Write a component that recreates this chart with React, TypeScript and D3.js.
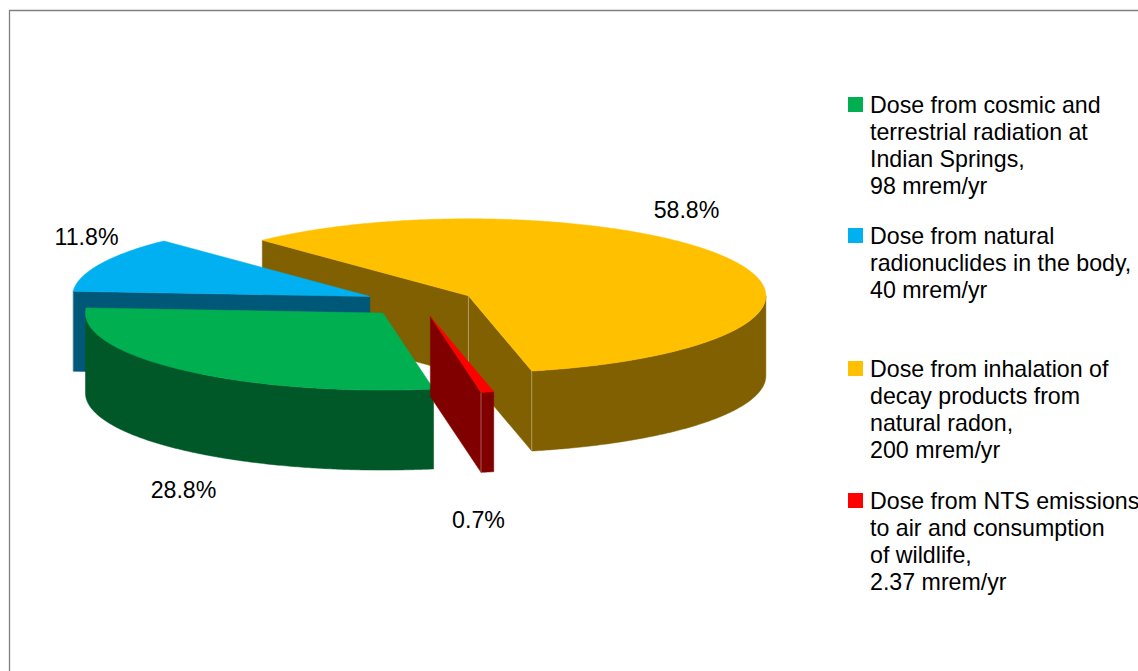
import React from "react";
import * as d3 from "d3";

// ---- data ----
const doses = [98, 40, 200, 2.37];
const topColors = ["#00B050", "#00B0F0", "#FFC000", "#FF0000"];
const wallColors = ["#005828", "#005878", "#806000", "#800000"];
const legendLines = [
  ["Dose from cosmic and", "terrestrial radiation at", "Indian Springs,", "98 mrem/yr"],
  ["Dose from natural", "radionuclides in the body,", "40 mrem/yr"],
  ["Dose from inhalation of", "decay products from", "natural radon,", "200 mrem/yr"],
  ["Dose from NTS emissions", "to air and consumption", "of wildlife,", "2.37 mrem/yr"],
];
const firstSliceAngleDeg = 170.2;

// ---- layout ----
const W = 1138, H = 671;
const CX = 419.8, CY = 302.5, RX = 297.5, RY = 77, DEPTH = 80;
const EXPLODE = 0.185;
const FONT = "'Liberation Sans', Arial, sans-serif";
const FS = 23.2;
const legendTops = [105, 236, 369, 501];
const LINE = 27;
const labelPos = [
  { x: 183.5, y: 490 },
  { x: 86.5, y: 237 },
  { x: 686.5, y: 210 },
  { x: 478.5, y: 520 },
];
const drawOrder = [2, 1, 0, 3];

const sx = d3.scaleLinear().domain([-1, 1]).range([CX - RX, CX + RX]);
const sy = d3.scaleLinear().domain([-1, 1]).range([CY - RY, CY + RY]);
const line = d3.line<[number, number]>();
const rad = Math.PI / 180;

const start = firstSliceAngleDeg * rad;
const arcs = d3.pie<number>().sort(null).startAngle(start).endAngle(start + 2 * Math.PI)(doses);
const total = d3.sum(doses);
const pct = d3.format(".1%");

function sample(a0: number, a1: number): number[] {
  const n = Math.max(2, Math.ceil((a1 - a0) / (0.5 * rad)));
  return d3.range(n + 1).map((i) => a0 + ((a1 - a0) * i) / n);
}

function Slice({ i }: { i: number }) {
  const { startAngle: a0, endAngle: a1 } = arcs[i];
  const mid = (a0 + a1) / 2;
  const ox = EXPLODE * Math.sin(mid);
  const oy = -EXPLODE * Math.cos(mid);
  const pt = (a: number, r = 1, dz = 0): [number, number] => [
    sx(ox + r * Math.sin(a)),
    sy(oy - r * Math.cos(a)) + dz,
  ];
  const top = [pt(a0, 0), ...sample(a0, a1).map((a) => pt(a))];

  const walls: string[] = [];
  const seams: [number, number][] = [];
  const startVis = -Math.cos(a0 - Math.PI / 2) > 0;
  const endVis = -Math.cos(a1 + Math.PI / 2) > 0;
  const quad = (a: number) =>
    line([pt(a, 0), pt(a), pt(a, 1, DEPTH), pt(a, 0, DEPTH)]) + "Z";
  if (startVis) walls.push(quad(a0));
  if (endVis) walls.push(quad(a1));
  if (startVis && endVis) seams.push(pt(a0, 0));
  let outerEndsAt: number[] = [];
  for (const k of [0, 1]) {
    const lo = Math.max(a0, (90 + 360 * k) * rad);
    const hi = Math.min(a1, (270 + 360 * k) * rad);
    if (hi > lo) {
      const s = sample(lo, hi);
      const poly = [...s.map((a) => pt(a)), ...s.slice().reverse().map((a) => pt(a, 1, DEPTH))];
      walls.push(line(poly) + "Z");
      outerEndsAt.push(lo, hi);
    }
  }
  for (const a of outerEndsAt) {
    if ((Math.abs(a - a0) < 1e-6 && startVis) || (Math.abs(a - a1) < 1e-6 && endVis)) seams.push(pt(a));
  }
  if (!outerEndsAt.length && (startVis || endVis)) seams.push(pt(startVis ? a0 : a1));

  return (
    <g>
      {walls.map((d, j) => (
        <path key={j} d={d} fill={wallColors[i]} stroke={wallColors[i]} strokeWidth={0.5} />
      ))}
      {seams.map(([x, y], j) => (
        <line key={j} x1={x} x2={x} y1={y} y2={y + DEPTH} stroke="#ffffff" strokeOpacity={0.35} strokeWidth={1} />
      ))}
      <path d={line(top) + "Z"} fill={topColors[i]} stroke={topColors[i]} strokeWidth={0.5} />
    </g>
  );
}

export default function App() {
  return (
    <svg
      width={W}
      height={H}
      viewBox={`0 0 ${W} ${H}`}
      style={{ position: "absolute", left: 0, top: 0, background: "#fff" }}
      fontFamily={FONT}
      fontSize={FS}
      fill="#000"
    >
      <path d={`M9.5 ${H}V10.5H${W}`} fill="none" stroke="#808080" strokeWidth={1.3} />
      {drawOrder.map((i) => (
        <Slice key={i} i={i} />
      ))}
      {doses.map((v, i) => (
        <text key={i} x={labelPos[i].x} y={labelPos[i].y} textAnchor="middle" dominantBaseline="central">
          {pct(v / total)}
        </text>
      ))}
      {legendLines.map((lines, i) => (
        <g key={i}>
          <rect x={848} y={legendTops[i] - 8} width={15} height={15} fill={topColors[i]} />
          {lines.map((t, j) => (
            <text key={j} x={870} y={legendTops[i] + j * LINE} dominantBaseline="central">
              {t}
            </text>
          ))}
        </g>
      ))}
    </svg>
  );
}
